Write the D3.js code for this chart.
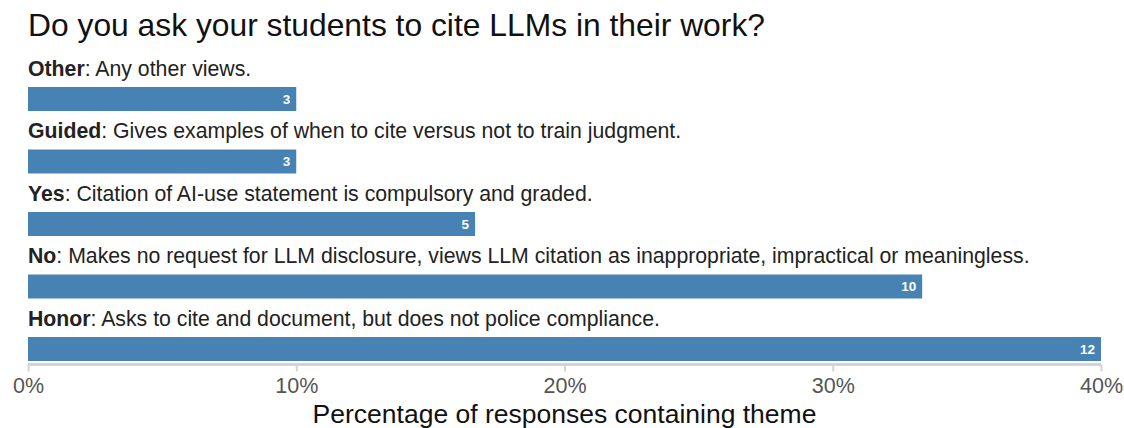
<!DOCTYPE html>
<html>
<head>
<meta charset="utf-8">
<title>Citing LLMs</title>
<script src="https://d3js.org/d3.v7.min.js"></script>
<style>
  body { margin: 0; background: #fff; }
  text { font-family: "Liberation Sans", Arial, sans-serif; }
</style>
</head>
<body>
<svg width="1124" height="428"></svg>
<script>
// data
var themes = ["Other", "Guided", "Yes", "No", "Honor"];
var descriptions = [
  "Any other views.",
  "Gives examples of when to cite versus not to train judgment.",
  "Citation of AI-use statement is compulsory and graded.",
  "Makes no request for LLM disclosure, views LLM citation as inappropriate, impractical or meaningless.",
  "Asks to cite and document, but does not police compliance."
];
var counts = [3, 3, 5, 10, 12];
var totalResponses = 30;
var tickValues = [0, 0.1, 0.2, 0.3, 0.4];

var svg = d3.select("svg");

var x = d3.scaleLinear()
    .domain([0, 0.4])
    .range([28, 1101]);

var y = d3.scaleBand()
    .domain(themes)
    .range([59, 371.5])
    .paddingInner(0)
    .paddingOuter(0);

var barOffset = 28, barHeight = 24;

svg.append("text")
    .attr("x", 28)
    .attr("y", 36)
    .attr("font-size", 31.8)
    .attr("fill", "#111")
    .text("Do you ask your students to cite LLMs in their work?");

var rows = svg.selectAll("g.row")
  .data(themes)
  .enter().append("g")
    .attr("class", "row")
    .attr("transform", function(d) { return "translate(0," + y(d) + ")"; });

var label = rows.append("text")
    .attr("x", 28)
    .attr("y", 16.5)
    .attr("font-size", 21.25)
    .attr("fill", "#222");
label.append("tspan")
    .attr("font-weight", "bold")
    .text(function(d) { return d; });
label.append("tspan")
    .text(function(d, i) { return ": " + descriptions[i]; });

rows.append("rect")
    .attr("x", x(0))
    .attr("y", barOffset)
    .attr("height", barHeight)
    .attr("width", function(d, i) { return x(counts[i] / totalResponses) - x(0); })
    .attr("fill", "steelblue");

rows.append("text")
    .attr("x", function(d, i) { return x(counts[i] / totalResponses) - 6; })
    .attr("y", barOffset + barHeight / 2)
    .attr("dy", "0.36em")
    .attr("text-anchor", "end")
    .attr("font-size", 13.5)
    .attr("font-weight", "bold")
    .attr("fill", "#fff")
    .text(function(d, i) { return counts[i]; });

// axis
var axis = svg.append("g")
    .attr("transform", "translate(0,364.5)")
    .call(d3.axisBottom(x)
        .tickValues(tickValues)
        .tickSize(7)
        .tickPadding(6)
        .tickFormat(d3.format(".0%")));

axis.select(".domain")
    .attr("stroke", "#d4d4d4")
    .attr("stroke-width", 3)
    .attr("d", "M" + x(0) + ",0H" + x(0.4));
axis.selectAll(".tick line")
    .attr("stroke", "#d4d4d4")
    .attr("stroke-width", 2);
axis.selectAll(".tick text")
    .attr("font-size", 21.5)
    .attr("fill", "#555")
    .attr("font-family", "Liberation Sans, Arial, sans-serif");

svg.append("text")
    .attr("x", (x(0) + x(0.4)) / 2)
    .attr("y", 423)
    .attr("text-anchor", "middle")
    .attr("font-size", 26.5)
    .attr("fill", "#111")
    .text("Percentage of responses containing theme");
</script>
</body>
</html>
